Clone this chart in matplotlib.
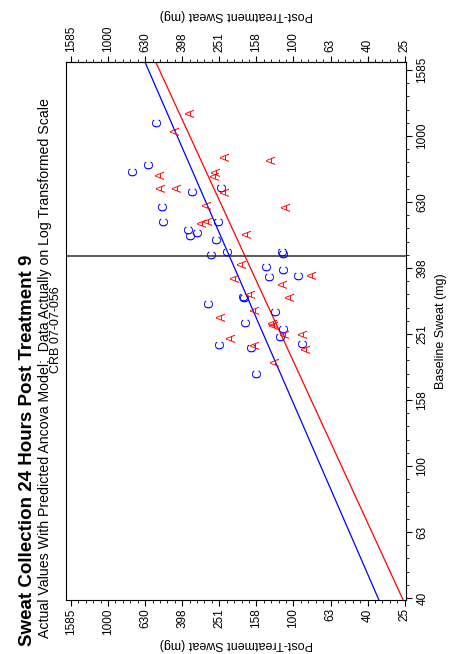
import numpy as np
import matplotlib
matplotlib.use("Agg")
import matplotlib.pyplot as plt
from matplotlib.ticker import FixedLocator, NullFormatter

plt.rcParams['font.family'] = ['Liberation Sans', 'DejaVu Sans']

# group C (control), baseline vs post-treatment sweat in mg
c_base = [1097, 779, 817, 678, 697, 611, 549, 550, 519, 501, 511, 484, 448, 437,
          445, 439, 403, 395, 375, 379, 327, 324, 310, 294, 273, 261, 247, 233,
          228, 235, 190]
c_post = [536, 725, 589, 344, 239, 494, 492, 247, 359, 350, 322, 255, 222, 271,
          112, 110, 136, 111, 131, 92, 181, 179, 280, 122, 177, 111, 115, 246,
          165, 87.5, 155]

# group A (active)
a_base = [1172, 1033, 862, 844, 763, 779, 759, 694, 694, 677, 608, 618, 547, 554,
          505, 411, 380, 371, 357, 326, 333, 298, 284, 271, 267, 252, 252, 244,
          233, 227, 207]
a_post = [354, 423, 227, 129, 514, 255, 259, 504, 413, 227, 107, 284, 305, 281,
          174, 185, 77.4, 201, 111, 102, 165, 157, 240, 126, 124, 109, 86.8, 212,
          157, 83.8, 123]

# fitted lines on log10 scale: log(post) = icpt + slope * log(base)
c_icpt, c_slope = 0.3047, 0.7743
a_icpt, a_slope = 0.1035, 0.8187
ref_base = 434

tick_labels = ['25', '40', '63', '100', '158', '251', '398', '630', '1000', '1585']

fig = plt.figure(figsize=(4.5, 6.54), dpi=100)
ax = fig.add_axes([66/450, 1-600/654, 340/450, 538/654])
ax.set_xscale('log')
ax.set_yscale('log')
ax.set_xlim(10**3.227, 10**1.393)
ax.set_ylim(10**1.594, 10**3.224)

major = [10**e for e in np.arange(1.4, 3.21, 0.2)]
minor = [10**e for e in np.arange(1.4, 3.25, 0.04)]

ax.xaxis.set_major_locator(FixedLocator(major))
ax.xaxis.set_minor_locator(FixedLocator(minor))
ax.xaxis.set_minor_formatter(NullFormatter())
ax.set_xticklabels(tick_labels)
ax.yaxis.set_major_locator(FixedLocator(major[1:]))
ax.yaxis.set_minor_locator(FixedLocator(minor))
ax.yaxis.set_minor_formatter(NullFormatter())
ax.set_yticklabels(tick_labels[1:])

ax.tick_params(axis='x', which='both', direction='out', top=False, bottom=True,
               labelrotation=90, labelsize=8.5, pad=2)
ax.tick_params(axis='x', which='major', length=4)
ax.tick_params(axis='x', which='minor', length=2)
ax.tick_params(axis='y', which='both', direction='out', left=False, labelleft=False,
               right=True, labelright=True, labelrotation=90, labelsize=8.5)
ax.tick_params(axis='y', which='major', length=4)
ax.tick_params(axis='y', which='minor', length=2)
for lab in ax.get_yticklabels():
    lab.set_verticalalignment('center')

sec = ax.secondary_xaxis('top')
sec.xaxis.set_major_locator(FixedLocator(major))
sec.xaxis.set_minor_locator(FixedLocator(minor))
sec.xaxis.set_minor_formatter(NullFormatter())
sec.set_xticklabels(tick_labels)
sec.tick_params(axis='x', which='both', direction='out', labelrotation=90, labelsize=8.5)
sec.tick_params(axis='x', which='major', length=4)
sec.tick_params(axis='x', which='minor', length=2)
sec.set_xlabel('Post-Treatment Sweat (mg)', rotation=180, fontsize=9, labelpad=5)

ax.set_xlabel('Post-Treatment Sweat (mg)', rotation=180, fontsize=9, labelpad=2)
ax.yaxis.set_label_position('right')
ax.set_ylabel('Baseline Sweat (mg)', rotation=90, fontsize=9, labelpad=5)

for s in ax.spines.values():
    s.set_linewidth(0.8)

# reference line at baseline mean
ax.axhline(ref_base, color='0.3', lw=1.3)

# fitted lines
bb = np.array(ax.get_ylim())
ax.plot(10**(c_icpt + c_slope*np.log10(bb)), bb, color='blue', lw=0.9)
ax.plot(10**(a_icpt + a_slope*np.log10(bb)), bb, color='red', lw=0.9)

for x, y in zip(c_post, c_base):
    ax.text(x, y, 'C', color='blue', fontsize=9, rotation=90, ha='center', va='center')
for x, y in zip(a_post, a_base):
    ax.text(x, y, 'A', color='red', fontsize=9, rotation=90, ha='center', va='center')

fig.text(28/450, 1-450/654, 'Sweat Collection 24 Hours Post Treatment 9', rotation=90,
         fontsize=13.5, fontweight='bold', ha='center', va='center')
fig.text(45/450, 1-368/654,
         'Actual Values With Predicted Ancova Model;  Data Actually on Log Transformed Scale',
         rotation=90, fontsize=10.2, ha='center', va='center')
fig.text(56/450, 1-330/654, 'CRB 07-07-056', rotation=90, fontsize=9,
         ha='center', va='center')

fig.savefig('out.png', dpi=100)
